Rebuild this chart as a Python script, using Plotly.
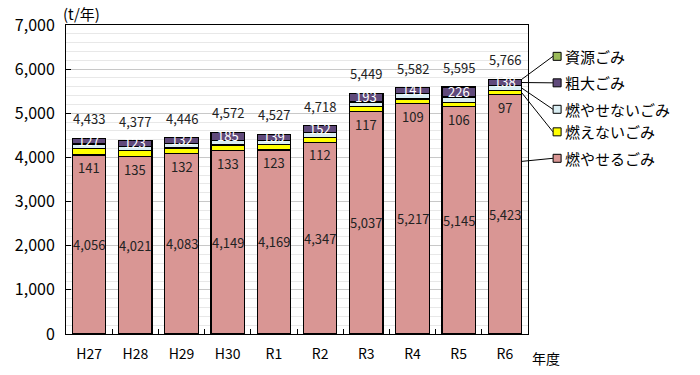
import plotly.graph_objects as go

categories = ["H27", "H28", "H29", "H30", "R1", "R2", "R3", "R4", "R5", "R6"]
moyaseru = [4056, 4021, 4083, 4149, 4169, 4347, 5037, 5217, 5145, 5423]      # 燃やせるごみ
moenai = [141, 135, 132, 133, 123, 112, 117, 109, 106, 97]                  # 燃えないごみ
moyasenai = [109, 98, 99, 105, 96, 107, 102, 115, 118, 108]                  # 燃やせないごみ
sodai = [127, 123, 132, 185, 139, 152, 193, 141, 226, 138]                   # 粗大ごみ
shigen = [0, 0, 0, 0, 0, 0, 0, 0, 0, 0]                                      # 資源ごみ
totals = [4433, 4377, 4446, 4572, 4527, 4718, 5449, 5582, 5595, 5766]

names = ["燃やせるごみ", "燃えないごみ", "燃やせないごみ", "粗大ごみ", "資源ごみ"]
colors = ["#D99694", "#FFFF00", "#DAEEF3", "#604A7B", "#9BBB59"]
series = [moyaseru, moenai, moyasenai, sodai, shigen]

FONT = "Noto Sans CJK JP"
BARW = 0.72

fig = go.Figure()
for nm, col, vals in zip(names, colors, series):
    fig.add_trace(go.Bar(x=categories, y=vals, name=nm, width=BARW,
                         marker=dict(color=col, line=dict(color="#000000", width=1.2)),
                         showlegend=False, hoverinfo="skip"))

ann = []
def fmt(v):
    return f"{v:,}"

for i, c in enumerate(categories):
    p, y, lb, s = moyaseru[i], moenai[i], moyasenai[i], sodai[i]
    ann.append(dict(x=c, y=p / 2, text=fmt(p), showarrow=False,
                    font=dict(size=13, color="#222222", family=FONT)))
    ann.append(dict(x=c, y=p, text=fmt(y), showarrow=False, yanchor="top", yshift=-1,
                    font=dict(size=13, color="#222222", family=FONT)))
    ann.append(dict(x=c, y=p + y + lb + s / 2, text=fmt(s), showarrow=False, yshift=1,
                    font=dict(size=13, color="#FFFFFF", family=FONT)))
    ann.append(dict(x=c, y=totals[i], text=fmt(totals[i]), showarrow=False, yanchor="bottom", yshift=8,
                    font=dict(size=13, color="#222222", family=FONT)))

# custom legend with leader lines to the last bar
n = len(categories)
bar_edge = (n - 1 + BARW / 2 + 0.5) / n
sq_x = 1.063
line_x = 1.054
text_x = 1.076
last = n - 1
p, y, lb, s = moyaseru[last], moenai[last], moyasenai[last], sodai[last]
legend_rows = [
    ("資源ごみ", colors[4], 6290, totals[last]),
    ("粗大ごみ", colors[3], 5690, p + y + lb + s / 2),
    ("燃やせないごみ", colors[2], 5090, p + y + lb / 2),
    ("燃えないごみ", colors[1], 4580, p + y / 2),
    ("燃やせるごみ", colors[0], 3980, 3910),
]
shapes = []
for label, col, ry, ty in legend_rows:
    shapes.append(dict(type="line", xref="paper", yref="y", x0=line_x, x1=bar_edge, y0=ry, y1=ty,
                       line=dict(color="#000000", width=1)))
    shapes.append(dict(type="rect", xref="paper", yref="y", xsizemode="pixel", ysizemode="pixel",
                       xanchor=sq_x, yanchor=ry, x0=-4, x1=4, y0=-4, y1=4,
                       fillcolor=col, line=dict(color="#000000", width=1)))
    ann.append(dict(xref="paper", yref="y", x=text_x, y=ry, text=label, showarrow=False,
                    xanchor="left", font=dict(size=15, color="#000000", family=FONT)))

ann.append(dict(xref="paper", yref="paper", x=-0.01, y=1.0, yanchor="middle", xanchor="left", yshift=12,
                text="(t/年)", showarrow=False, font=dict(size=15, color="#000000", family=FONT)))
ann.append(dict(xref="paper", yref="paper", x=1.005, y=-0.04, yanchor="top", xanchor="left",
                text="年度", showarrow=False, font=dict(size=14, color="#000000", family=FONT)))

fig.update_layout(
    width=700, height=375,
    margin=dict(l=66, r=172, t=21, b=39),
    barmode="stack",
    plot_bgcolor="#FFFFFF", paper_bgcolor="#FFFFFF",
    annotations=ann, shapes=shapes,
    font=dict(family=FONT, color="#000000"),
)
fig.update_xaxes(showline=True, linecolor="#000000", linewidth=1, mirror=True,
                 ticks="inside", tickson="boundaries", ticklen=5, tickcolor="#000000",
                 ticklabelstandoff=7,
                 tickfont=dict(size=14, family=FONT, color="#000000"), showgrid=False)
fig.update_yaxes(range=[0, 7000], dtick=1000, tickformat=",", separatethousands=True,
                 showline=True, linecolor="#000000", linewidth=1, mirror=True,
                 ticks="inside", ticklen=5, tickcolor="#000000",
                 ticklabelstandoff=7, ticklabeloverflow="allow",
                 tickfont=dict(size=16, family=FONT, color="#000000"),
                 showgrid=True, gridcolor="#C8C8C8", gridwidth=1,
                 minor=dict(dtick=200, showgrid=True, gridcolor="#E8E8E8", gridwidth=1),
                 zeroline=False)

fig.write_html("out.html", config={"displayModeBar": False},
               post_script="document.body.style.margin='0';")
